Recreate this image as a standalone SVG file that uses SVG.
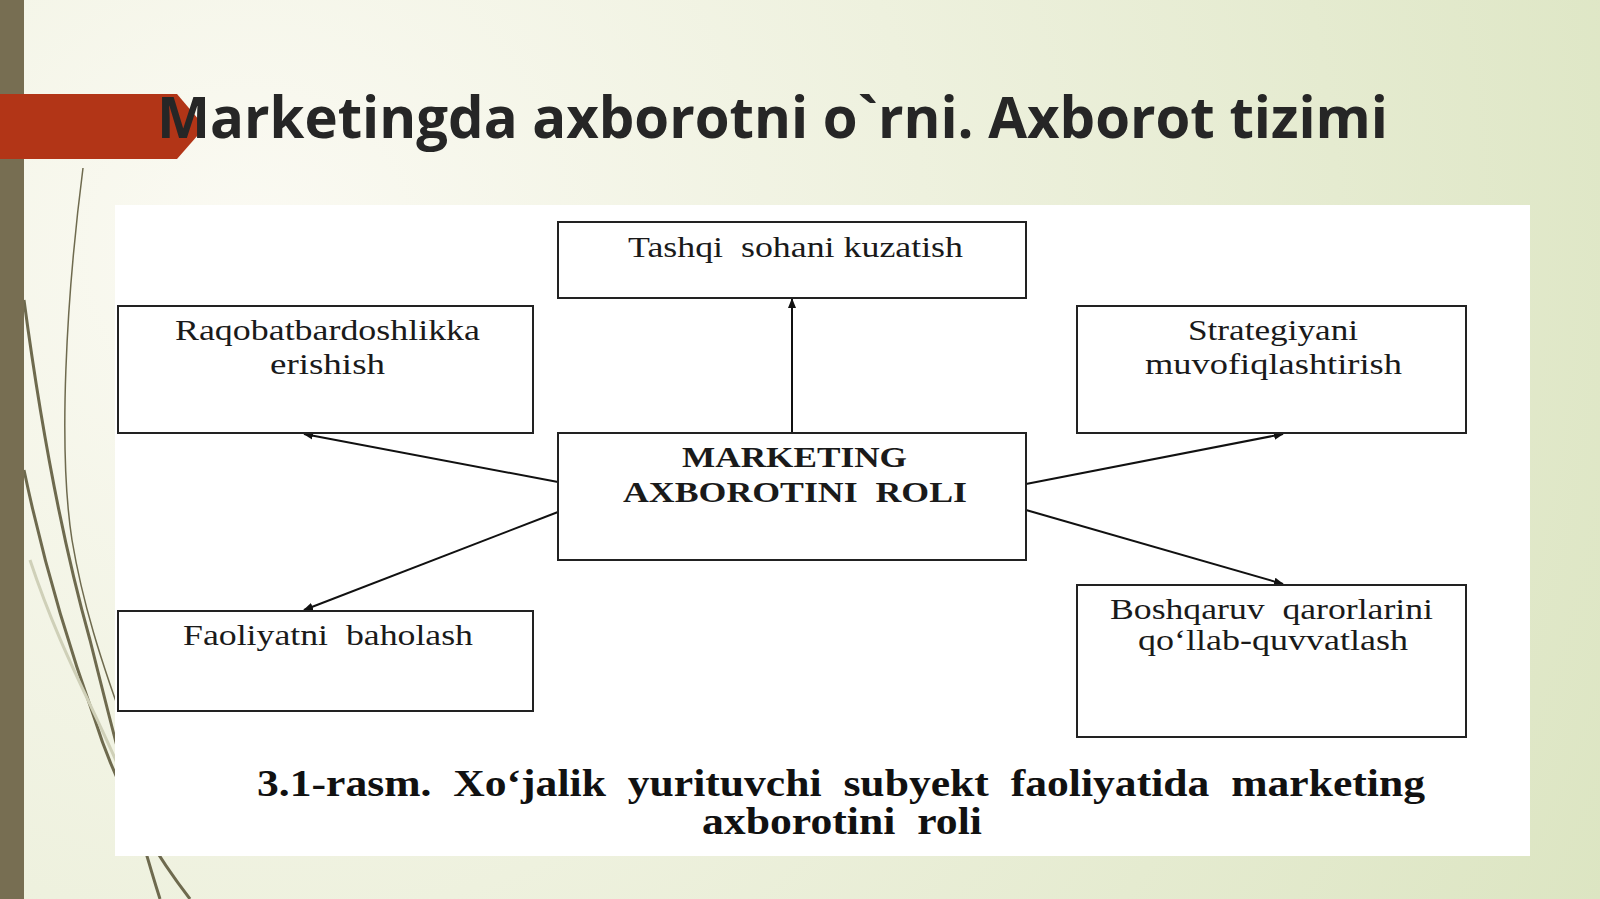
<svg xmlns="http://www.w3.org/2000/svg" width="1600" height="899" viewBox="0 0 1600 899" xml:space="preserve">
<defs>
<radialGradient id="bg" cx="250" cy="250" r="1500" gradientUnits="userSpaceOnUse">
<stop offset="0" stop-color="#fbfaf3"/>
<stop offset="0.45" stop-color="#eef1de"/>
<stop offset="1" stop-color="#dce5c2"/>
</radialGradient>
<marker id="ah" viewBox="0 0 10 10" refX="9" refY="5" markerWidth="5" markerHeight="5" markerUnits="strokeWidth" orient="auto">
<path d="M0,1 L10,5 L0,9 Z" fill="#111"/>
</marker>
<style>
.box{fill:#fff;stroke:#222;stroke-width:2}
.t{font-family:"Liberation Serif","Times New Roman",serif;font-size:30px;fill:#1a1a1a;white-space:pre}
.b{font-family:"Liberation Serif","Times New Roman",serif;font-size:29px;font-weight:bold;fill:#1a1a1a;white-space:pre}
.cap{font-family:"Liberation Serif","Times New Roman",serif;font-size:37px;font-weight:bold;fill:#111;white-space:pre}
.conn{stroke:#111;stroke-width:2;fill:none;marker-end:url(#ah)}
.wisp{fill:none;stroke:#6e6a4e}
</style>
</defs>
<rect x="0" y="0" width="1600" height="899" fill="url(#bg)"/>
<g id="decor">
<path class="wisp" stroke-width="1.5" d="M83,168 C66,300 58,450 72,540 C82,600 100,660 130,740"/>
<path class="wisp" stroke-width="3" d="M24,300 C40,420 62,540 90,640 C110,720 135,820 160,899"/>
<path class="wisp" stroke-width="3" d="M24,470 C45,570 70,650 95,720 C120,800 160,860 190,899"/>
<path fill="none" stroke="#cfd0b8" stroke-width="3" d="M30,560 C60,650 90,700 120,770"/>
<rect x="0" y="0" width="24" height="899" fill="#776e52"/>
<path d="M0,94 H177 L205,127 L177,159 H0 Z" fill="#b23517"/>
</g>
<g id="title">
<text x="157" y="138" font-family="'Open Sans','Noto Sans',sans-serif" font-size="57" font-weight="bold" fill="#262626" textLength="1231" lengthAdjust="spacingAndGlyphs">Marketingda axborotni o`rni. Axborot tizimi</text>
</g>
<rect id="panel" x="115" y="205" width="1415" height="651" fill="#fff"/>
<g id="connectors">
<line class="conn" x1="792" y1="433" x2="792" y2="299"/>
<line class="conn" x1="558" y1="482" x2="304" y2="434"/>
<line class="conn" x1="558" y1="512" x2="304" y2="610"/>
<line class="conn" x1="1026" y1="484" x2="1283" y2="434"/>
<line class="conn" x1="1026" y1="510" x2="1283" y2="584"/>
</g>
<g id="node-tashqi">
<rect class="box" x="558" y="222" width="468" height="76"/>
<text class="t" x="628" y="257" textLength="335" lengthAdjust="spacingAndGlyphs">Tashqi  sohani kuzatish</text>
</g>
<g id="node-raqobat">
<rect class="box" x="118" y="306" width="415" height="127"/>
<text class="t" x="175" y="340" textLength="305" lengthAdjust="spacingAndGlyphs">Raqobatbardoshlikka</text>
<text class="t" x="270" y="374" textLength="115" lengthAdjust="spacingAndGlyphs">erishish</text>
</g>
<g id="node-strategiya">
<rect class="box" x="1077" y="306" width="389" height="127"/>
<text class="t" x="1188" y="340" textLength="170" lengthAdjust="spacingAndGlyphs">Strategiyani</text>
<text class="t" x="1145" y="374" textLength="257" lengthAdjust="spacingAndGlyphs">muvofiqlashtirish</text>
</g>
<g id="node-center">
<rect class="box" x="558" y="433" width="468" height="127"/>
<text class="b" x="682" y="467" textLength="225" lengthAdjust="spacingAndGlyphs">MARKETING</text>
<text class="b" x="623" y="502" textLength="344" lengthAdjust="spacingAndGlyphs">AXBOROTINI  ROLI</text>
</g>
<g id="node-faoliyat">
<rect class="box" x="118" y="611" width="415" height="100"/>
<text class="t" x="183" y="645" textLength="290" lengthAdjust="spacingAndGlyphs">Faoliyatni  baholash</text>
</g>
<g id="node-boshqaruv">
<rect class="box" x="1077" y="585" width="389" height="152"/>
<text class="t" x="1110" y="619" textLength="323" lengthAdjust="spacingAndGlyphs">Boshqaruv  qarorlarini</text>
<text class="t" x="1138" y="650" textLength="270" lengthAdjust="spacingAndGlyphs">qo‘llab-quvvatlash</text>
</g>
<g id="caption">
<text class="cap" x="257" y="796" textLength="1168" lengthAdjust="spacingAndGlyphs">3.1-rasm.  Xo‘jalik  yurituvchi  subyekt  faoliyatida  marketing</text>
<text class="cap" x="702" y="834" textLength="280" lengthAdjust="spacingAndGlyphs">axborotini  roli</text>
</g>
</svg>
